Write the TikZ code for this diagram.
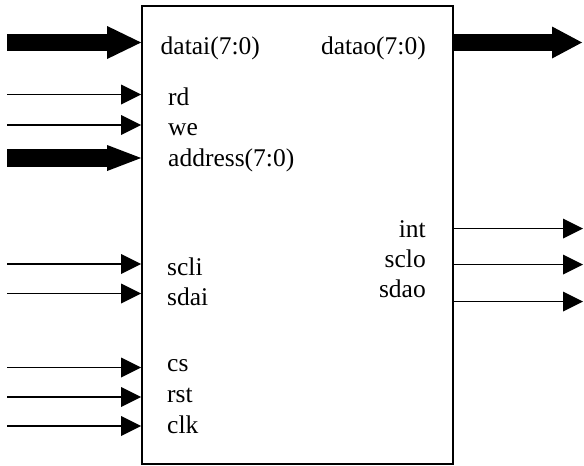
\documentclass[tikz,border=0pt]{standalone}
\usepackage{fontspec}
\setmainfont{Liberation Serif}
\usetikzlibrary{arrows.meta}
\tikzset{
  blk/.style={draw, line width=1.8pt, minimum width=311pt, minimum height=458pt, inner sep=0pt},
  sig/.style={line width=1.9pt, -{Triangle[length=20pt,width=20pt,line width=0pt]}},
  bus/.style 2 args={line width=17.5pt, -{Triangle[length=#1,width=#2,line width=0pt]}},
  lbl/.style={inner sep=0pt, font=\fontsize{25.5}{30}\selectfont},
}
\begin{document}
\begin{tikzpicture}[x=1pt,y=-1pt]
\useasboundingbox (0,0) rectangle (584,466);
\node[blk] (box) at (297.5,235) {};
% input coordinates
\coordinate (iData) at (7,42.5);
\coordinate (iRd) at (7,94.5);
\coordinate (iWe) at (7,125);
\coordinate (iAddr) at (7,158);
\coordinate (iScl) at (7,264);
\coordinate (iSda) at (7,293.5);
\coordinate (iCs) at (7,367.5);
\coordinate (iRst) at (7,397);
\coordinate (iClk) at (7,426);
% output coordinates
\coordinate (oData) at (582,42.5);
\coordinate (oInt) at (583,228.5);
\coordinate (oScl) at (583,264.5);
\coordinate (oSda) at (583,301.5);
% arrows
\draw[bus={34pt}{33pt}] (iData) -- (iData -| box.west);
\draw[sig] (iRd) -- (iRd -| box.west);
\draw[sig] (iWe) -- (iWe -| box.west);
\draw[bus={34pt}{26pt}] (iAddr) -- (iAddr -| box.west);
\draw[sig] (iScl) -- (iScl -| box.west);
\draw[sig] (iSda) -- (iSda -| box.west);
\draw[sig] (iCs) -- (iCs -| box.west);
\draw[sig] (iRst) -- (iRst -| box.west);
\draw[sig] (iClk) -- (iClk -| box.west);
\draw[bus={30pt}{32pt}] (oData -| box.east) -- (oData);
\draw[sig] (oInt -| box.east) -- (oInt);
\draw[sig] (oScl -| box.east) -- (oScl);
\draw[sig] (oSda -| box.east) -- (oSda);
% labels
\node[lbl, anchor=base west] (tDatai) at (160.5,54) {datai(7:0)};
\node[lbl, anchor=base west] (tRd) at (168,105) {rd};
\node[lbl, anchor=base west] (tWe) at (168,135) {we};
\node[lbl, anchor=base west] (tAddr) at (168,166) {address(7:0)};
\node[lbl, anchor=base west] (tScli) at (167,275) {scli};
\node[lbl, anchor=base west] (tSdai) at (167,305) {sdai};
\node[lbl, anchor=base west] (tCs) at (167,371) {cs};
\node[lbl, anchor=base west] (tRst) at (167,402) {rst};
\node[lbl, anchor=base west] (tClk) at (167,433) {clk};
\node[lbl, anchor=base east] (tDatao) at (426,54) {datao(7:0)};
\node[lbl, anchor=base east] (tInt) at (426,237) {int};
\node[lbl, anchor=base east] (tSclo) at (426,267) {sclo};
\node[lbl, anchor=base east] (tSdao) at (426,297) {sdao};
\end{tikzpicture}
\end{document}
